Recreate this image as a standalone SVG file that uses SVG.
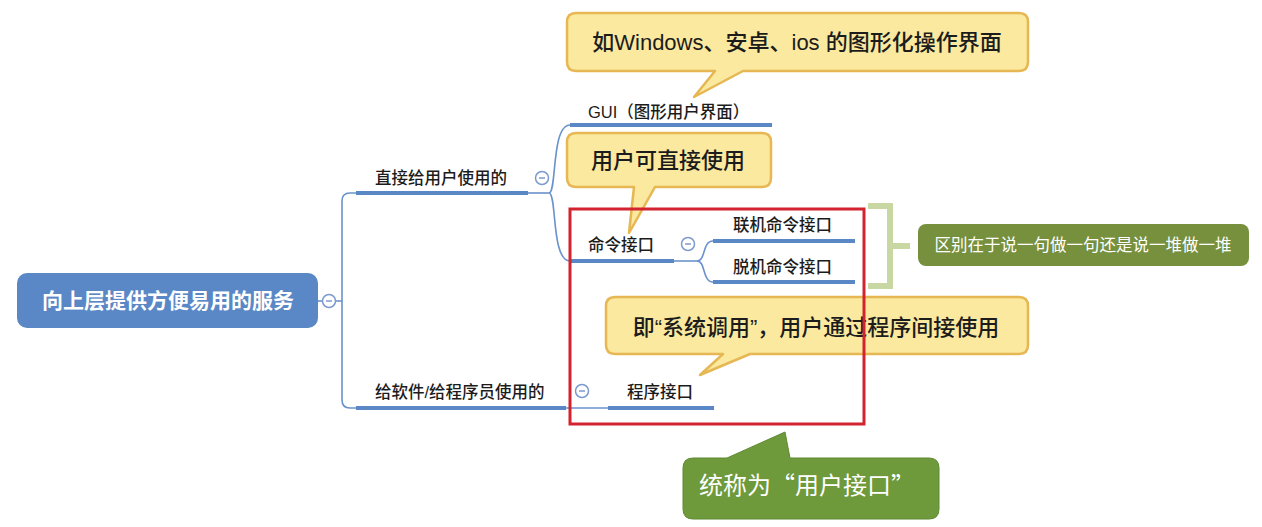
<svg xmlns="http://www.w3.org/2000/svg" width="1262" height="527" viewBox="0 0 1262 527">
<style>
.lbl{font-family:"Liberation Sans","Noto Sans CJK SC",sans-serif;font-size:16.5px;fill:#1c1c1c;font-weight:500}
.co{font-family:"Liberation Sans","Noto Sans CJK SC",sans-serif;font-size:22px;fill:#1c1c1c;font-weight:500;text-anchor:middle}
.ul{stroke:#5a87c6;stroke-width:4;fill:none}
.cn{stroke:#6a92cc;stroke-width:1.6;fill:none}
.tog circle{fill:#fff;stroke:#7c9ad0;stroke-width:1.5}
.tog line{stroke:#7c9ad0;stroke-width:1.5}
.callout{fill:#fae99f;stroke:#e6b752;stroke-width:2.5;stroke-linejoin:round}
</style>
<rect width="1262" height="527" fill="#ffffff"/>

<g id="connectors">
  <path class="cn" d="M318,301 H323"/>
  <path class="cn" d="M335,301 H342"/>
  <path class="cn" d="M356,193 H350 Q342,193 342,201 V400 Q342,408 350,408 H356"/>
  <path class="cn" d="M528,193 H549"/>
  <path class="cn" d="M549,193 C557,193 551,125 570,125"/>
  <path class="cn" d="M549,193 C557,193 551,261 570,261"/>
  <path class="cn" d="M674,261 H697"/>
  <path class="cn" d="M697,261 C706,261 702,241 713,241"/>
  <path class="cn" d="M697,261 C706,261 702,282 713,282"/>
  <path class="cn" d="M566,408 H608"/>
</g>

<g id="root">
  <rect x="17" y="273" width="301" height="55" rx="10" fill="#5a87c5"/>
  <text x="168" y="308" text-anchor="middle" style="font-family:'Noto Sans CJK SC',sans-serif;font-size:21px;font-weight:bold;fill:#ffffff">向上层提供方便易用的服务</text>
  <g class="tog"><circle cx="329" cy="301" r="6.5"/><line x1="326" y1="301" x2="332" y2="301"/></g>
</g>

<g id="node-direct">
  <text class="lbl" x="375" y="184">直接给用户使用的</text>
  <path class="ul" d="M356,193 H528"/>
  <g class="tog"><circle cx="542" cy="178" r="6.5"/><line x1="539" y1="178" x2="545" y2="178"/></g>
</g>

<g id="node-gui">
  <text class="lbl" x="588" y="118">GUI（图形用户界面）</text>
  <path class="ul" d="M570,125 H772"/>
</g>

<g id="node-cmd">
  <text class="lbl" x="588" y="251">命令接口</text>
  <path class="ul" d="M570,261 H674"/>
  <g class="tog"><circle cx="688" cy="244" r="6.5"/><line x1="685" y1="244" x2="691" y2="244"/></g>
</g>

<g id="node-online">
  <text class="lbl" x="733" y="231">联机命令接口</text>
  <path class="ul" d="M713,241 H855"/>
</g>

<g id="node-offline">
  <text class="lbl" x="733" y="273">脱机命令接口</text>
  <path class="ul" d="M713,282 H855"/>
</g>

<g id="node-soft">
  <text class="lbl" x="375" y="398">给软件/给程序员使用的</text>
  <path class="ul" d="M356,408 H566"/>
  <g class="tog"><circle cx="582" cy="391" r="6.5"/><line x1="579" y1="391" x2="585" y2="391"/></g>
</g>

<g id="node-prog">
  <text class="lbl" x="627" y="398">程序接口</text>
  <path class="ul" d="M608,408 H714"/>
</g>

<g id="summary-bracket">
  <path d="M868,206 H890 V286 H868" fill="none" stroke="#c9d8a2" stroke-width="6"/>
  <path d="M890,246 H910" fill="none" stroke="#c9d8a2" stroke-width="6"/>
</g>

<g id="summary-note">
  <rect x="918" y="224" width="331" height="42" rx="8" fill="#76903e"/>
  <text x="1083" y="251" text-anchor="middle" style="font-family:'Noto Sans CJK SC',sans-serif;font-size:16.5px;fill:#ffffff">区别在于说一句做一句还是说一堆做一堆</text>
</g>

<g id="callout-gui">
  <path class="callout" d="M576,13 H1019 Q1028,13 1028,22 V62 Q1028,71 1019,71 H743 L694,97 L715,71 H576 Q567,71 567,62 V22 Q567,13 576,13 Z"/>
  <text class="co" x="797" y="50">如Windows、安卓、ios 的图形化操作界面</text>
</g>

<g id="callout-cmd">
  <path class="callout" d="M576,133 H762 Q771,133 771,142 V178 Q771,187 762,187 H655 L629,233 L634,187 H576 Q567,187 567,178 V142 Q567,133 576,133 Z"/>
  <text class="co" x="668" y="168">用户可直接使用</text>
</g>

<g id="callout-prog">
  <path class="callout" d="M615,297 H1019 Q1028,297 1028,306 V345 Q1028,354 1019,354 H750 L700,375 L723,354 H615 Q606,354 606,345 V306 Q606,297 615,297 Z"/>
  <text class="co" x="816" y="335">即“系统调用”，用户通过程序间接使用</text>
</g>

<g id="highlight-box">
  <rect x="570" y="209" width="294" height="215" fill="none" stroke="#d2232f" stroke-width="3"/>
</g>

<g id="callout-user-interface">
  <path d="M693,458 H727 L785,432 L790,458 H929 Q939,458 939,468 V509 Q939,519 929,519 H693 Q683,519 683,509 V468 Q683,458 693,458 Z" fill="#6e9a3c" stroke="#5f8a32" stroke-width="1"/>
  <text x="807" y="494" text-anchor="middle" style="font-family:'Noto Sans CJK SC',sans-serif;font-size:24px;fill:#ffffff">统称为“用户接口”</text>
</g>
</svg>
